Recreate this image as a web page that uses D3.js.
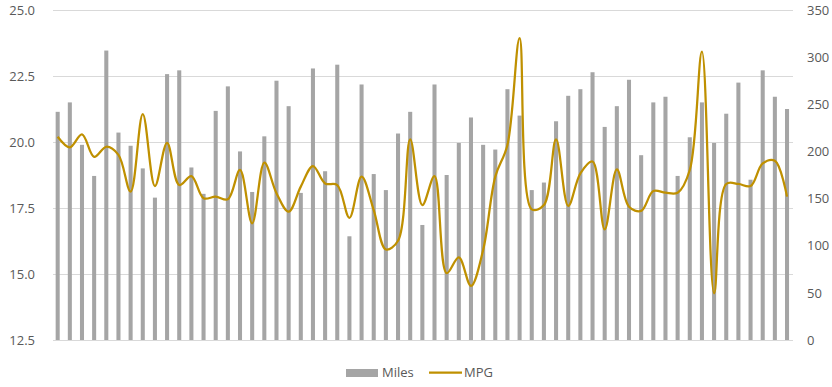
<!DOCTYPE html>
<html>
<head>
<meta charset="utf-8">
<script src="https://cdn.jsdelivr.net/npm/d3@7/dist/d3.min.js"></script>
<style>
  html, body { margin: 0; padding: 0; background: #fff; }
  svg { display: block; font-family: "Open Sans", "Liberation Sans", sans-serif; }
</style>
</head>
<body>
<svg id="chart" width="832" height="387"></svg>
<script>
const categories = d3.range(1, 62).map(String);
const miles = [242, 252, 207, 174, 307, 220, 206, 182, 151, 282, 286, 183, 155, 243, 269, 200,
  157, 216, 275, 248, 156, 288, 179, 292, 110, 271, 176, 159, 219, 242, 122,
  271, 175, 209, 236, 207, 202, 266, 238, 159, 167, 232, 259, 266, 284, 226,
  248, 276, 196, 252, 258, 174, 215, 252, 209, 240, 273, 170, 286, 258, 245];
const mpg = [20.20, 19.80, 20.29, 19.44, 19.82, 19.51, 18.12, 21.06, 18.33, 19.97, 18.37, 18.71, 17.87, 17.93, 17.83, 18.94,
  16.92, 19.22, 18.06, 17.36, 18.31, 19.09, 18.43, 18.37, 17.13, 18.69, 17.42, 15.93, 16.26, 20.10, 17.61,
  18.71, 15.03, 15.63, 14.55, 15.91, 18.69, 19.89, 23.93, 17.45, 17.61, 20.10, 17.58, 18.81, 19.26, 16.69,
  18.96, 17.55, 17.39, 18.14, 18.08, 18.08, 18.94, 23.42, 14.27, 18.41, 18.41, 18.33, 19.19, 19.29, 17.93];
const leftTicks = [12.5, 15.0, 17.5, 20.0, 22.5, 25.0];
const rightTicks = [0, 50, 100, 150, 200, 250, 300, 350];

const svg = d3.select("#chart");
const plot = { left: 51.6, right: 793.1, top: 10, bottom: 340 };

const x = d3.scaleBand().domain(categories).range([plot.left, plot.right])
  .paddingInner(2 / 3).paddingOuter(1 / 3);
const yL = d3.scaleLinear().domain([12.5, 25]).range([plot.bottom, plot.top]);
const yR = d3.scaleLinear().domain([0, 350]).range([plot.bottom, plot.top]);

// gridlines
svg.append("g").selectAll("line").data(leftTicks).join("line")
  .attr("x1", 52.7).attr("x2", 792.5)
  .attr("y1", d => yL(d)).attr("y2", d => yL(d))
  .attr("stroke", "#d9d9d9").attr("stroke-width", 1)
  .attr("shape-rendering", "crispEdges");

// left axis
const axL = d3.axisLeft(yL).tickValues(leftTicks).tickFormat(d3.format(".1f")).tickSize(0).tickPadding(0);
const gL = svg.append("g").attr("transform", "translate(35,0)").call(axL);
gL.select(".domain").remove();
gL.selectAll("text").attr("fill", "#595959").style("font-size", "13px")
  .style("font-family", "'Open Sans', sans-serif");

// right axis
const axR = d3.axisRight(yR).tickValues(rightTicks).tickFormat(d3.format("d")).tickSize(0).tickPadding(0);
const gR = svg.append("g").attr("transform", "translate(807,0)").call(axR);
gR.select(".domain").remove();
gR.selectAll("text").attr("fill", "#595959").style("font-size", "13px")
  .style("font-family", "'Open Sans', sans-serif");

// bars
svg.append("g").selectAll("rect").data(miles).join("rect")
  .attr("x", (d, i) => x(categories[i]))
  .attr("width", x.bandwidth())
  .attr("y", d => yR(d))
  .attr("height", d => yR(0) - yR(d))
  .attr("fill", "#a5a5a5");

// line
const line = d3.line()
  .x((d, i) => x(categories[i]) + x.bandwidth() / 2)
  .y(d => yL(d))
  .curve(d3.curveCatmullRom.alpha(0.5));
svg.append("path").datum(mpg)
  .attr("d", line)
  .attr("fill", "none")
  .attr("stroke", "#bf9000")
  .attr("stroke-width", 2.25)
  .attr("stroke-linejoin", "round");

// legend
const leg = svg.append("g");
leg.append("rect").attr("x", 346).attr("y", 369).attr("width", 32).attr("height", 8).attr("fill", "#a5a5a5");
leg.append("text").attr("x", 382).attr("y", 377).text("Miles")
  .attr("fill", "#595959").style("font-size", "13px");
leg.append("line").attr("x1", 429).attr("x2", 462).attr("y1", 372.5).attr("y2", 372.5)
  .attr("stroke", "#bf9000").attr("stroke-width", 2.25);
leg.append("text").attr("x", 464).attr("y", 377).text("MPG")
  .attr("fill", "#595959").style("font-size", "13px");
</script>
</body>
</html>
